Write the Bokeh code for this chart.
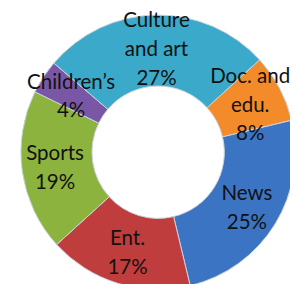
import numpy as np
from bokeh.plotting import figure
from bokeh.models import ColumnDataSource, Range1d
from bokeh.core.properties import value
from bokeh.embed import file_html
from bokeh.resources import INLINE

# Data (clockwise order, as in the source chart)
categories = ["News", "Ent.", "Sports", "Children\u2019s", "Culture and art", "Doc. and edu."]
shares = [25, 17, 19, 4, 27, 8]
labels = ["News\n25%", "Ent.\n17%", "Sports\n19%", "Children\u2019s\n4%", "Culture\nand art\n27%", "Doc. and\nedu.\n8%"]
colors = ["#3B74C2", "#BF3D3C", "#8BB33D", "#7A57A6", "#3AA9CA", "#F38B2B"]

first_angle_deg = 13.5  # start of the first slice, counter-clockwise from 3 o'clock
r_in, r_out, r_lab = 68, 141, 107

vals = np.array(shares, dtype=float)
frac = vals / vals.sum()
cum_before = np.concatenate([[0], np.cumsum(frac)[:-1]])
start_cw = np.deg2rad(first_angle_deg) - cum_before * 2 * np.pi
end_cw = start_cw - frac * 2 * np.pi
mid = (start_cw + end_cw) / 2

src = ColumnDataSource(dict(
    cat=categories, label=labels, color=colors,
    a0=end_cw, a1=start_cw,
    lx=r_lab * np.cos(mid), ly=r_lab * np.sin(mid),
))

p = figure(width=290, height=284, output_backend="svg", toolbar_location=None,
           x_range=Range1d(-162, 136), y_range=Range1d(-136, 156),
           min_border=0, outline_line_color=None)
p.axis.visible = False
p.grid.visible = False
p.background_fill_color = "white"
p.border_fill_color = "white"

p.annular_wedge(x=0, y=0, inner_radius=r_in, outer_radius=r_out,
                start_angle="a0", end_angle="a1", color="color",
                line_color="#c9d3dc", line_width=1, source=src)

p.text(x="lx", y="ly", text="label", source=src,
       text_font=value("Lato"), text_font_size="20.5px", text_color="#111111",
       text_align="center", text_baseline="middle", text_line_height=1.2)

open("out.html", "w").write(file_html(p, INLINE))
